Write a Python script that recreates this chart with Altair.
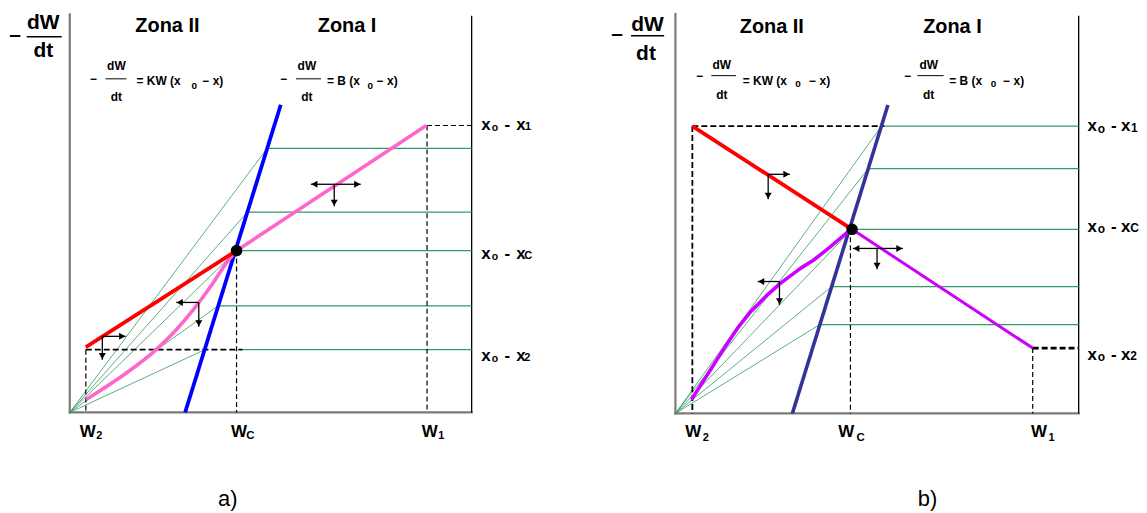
import altair as alt
import pandas as pd

FONT = "Liberation Sans"
GREEN = "#339966"

# Units: W = 0..100 between the left and right frame lines, R = 0..100 from bottom to top of frame
# ---------------- panel a ----------------
A_BLUE = [(28.7, 0.0), (52.5, 77.2)]
A_DOT = [(41.5, 40.6)]
A_ZONE1 = [(41.5, 40.6), (88.7, 72.0)]
A_RED = [(4.0, 16.4), (41.5, 40.6)]
A_CURVE_W = [4.1, 9.9, 14.1, 21.5, 26.5, 31.4, 35.6, 38.9, 41.5]
A_CURVE_R = [3.25, 7.0, 9.9, 15.75, 20.75, 26.6, 32.4, 37.4, 40.6]
A_LEVELS = [66.25, 50.25, 40.6, 26.75, 15.75]
A_LEVEL_FROM = [49.1, 44.2, 41.5, 36.9, 43.0]
A_FAN_TO = [49.1, 44.2, 41.5, 36.9, 33.6]
A_DASH_THIN = [(88.9, 72.0, 100, 72.0), (88.9, 72.0, 88.9, 0), (41.5, 40.6, 41.5, 0), (4.0, 15.75, 4.0, 0)]
A_DASH_THICK = [(4.0, 15.75, 43.0, 15.75)]
A_DASH_HEAVY = []
A_ARROWS = [(65.8, 57.25, 60.0, 57.25), (65.8, 57.25, 72.4, 57.25), (65.8, 57.25, 65.8, 51.75),
            (32.1, 27.6, 26.5, 27.6), (32.1, 27.6, 32.1, 21.5),
            (8.1, 19.1, 13.9, 19.1), (8.1, 19.1, 8.1, 13.25)]
A_BARS = [(-10.7, 94.25, -2.0, 94.25, 1.6), (8.9, 83.7, 14.1, 83.7, 1.0), (56.3, 83.7, 62.5, 83.7, 1.0)]
A_FRAME_GRAY = [(0, 0, 0, 99.9), (0, 0, 100, 0)]
A_FRAME_BLACK = [(100, 0, 100, 99.5)]
A_TEXT_BOLD_CENTER = [
    ("–", -13.6, 94.75, 21), ("dW", -6.6, 97.6, 21), ("dt", -6.6, 90.6, 21),
    ("Zona II", 24.3, 97.0, 20), ("Zona I", 69.0, 97.0, 20),
    ("−", 5.95, 83.7, 12), ("dW", 11.6, 87.0, 12), ("dt", 11.6, 79.25, 12), ("0", 31.0, 82.0, 10),
    ("−", 53.3, 83.7, 12), ("dW", 59.0, 87.0, 12), ("dt", 59.0, 79.25, 12), ("0", 74.8, 82.0, 10),
]
A_TEXT_BOLD_LEFT = [
    ("= KW (x", 16.6, 83.25, 12), ("− x)", 33.0, 83.25, 12),
    ("= B (x", 64.0, 83.25, 12), ("− x)", 76.4, 83.25, 12),
    ("x", 102.4, 72.0, 17), ("o", 105.0, 71.25, 10.5), ("-", 108.2, 72.0, 17), ("x", 111.1, 72.0, 17), ("1", 113.3, 71.5, 11),
    ("x", 102.4, 39.75, 17), ("o", 105.0, 39.0, 10.5), ("-", 108.2, 39.75, 17), ("x", 111.1, 39.75, 17), ("C", 113.1, 39.25, 11),
    ("x", 102.4, 14.1, 17), ("o", 105.0, 13.35, 10.5), ("-", 108.2, 14.1, 17), ("x", 111.1, 14.1, 17), ("2", 113.1, 13.6, 11),
    ("W", 2.5, -4.9, 17), ("2", 6.57, -5.97, 11),
    ("W", 40.1, -4.9, 17), ("C", 43.9, -5.97, 11.5),
    ("W", 87.6, -4.9, 17), ("1", 91.7, -5.97, 11),
]
A_TEXT_NORMAL_CENTER = [("a)", 39.3, -21.75, 22)]

# ---------------- panel b ----------------
B_BLUE = [(29.0, 0.0), (52.7, 77.4)]
B_DOT = [(43.8, 46.2)]
B_ZONE1 = [(43.8, 46.2), (88.6, 16.4)]
B_RED = [(4.2, 72.1), (43.8, 46.2)]
B_CURVE_W = [4.0, 7.96, 12.1, 15.4, 18.7, 22.8, 26.1, 31.0, 34.3, 38.4, 42.55, 43.8]
B_CURVE_R = [3.5, 9.75, 16.4, 21.4, 25.6, 29.75, 32.7, 36.4, 38.5, 41.8, 45.4, 46.2]
B_LEVELS = [72.1, 61.4, 46.2, 31.8, 22.3]
B_LEVEL_FROM = [51.1, 47.8, 43.8, 38.7, 35.8]
B_FAN_TO = [51.1, 47.8, 43.8, 38.7, 35.8]
B_DASH_THIN = [(43.4, 46.2, 43.4, 0), (88.6, 16.4, 88.6, 0)]
B_DASH_THICK = [(4.2, 72.1, 51.8, 72.1), (4.2, 72.1, 4.2, 0)]
B_DASH_HEAVY = [(88.6, 16.4, 100, 16.4)]
B_ARROWS = [(23.0, 60.0, 28.4, 60.0), (23.0, 60.0, 23.0, 53.75),
            (50.0, 41.4, 44.0, 41.4), (50.0, 41.4, 56.4, 41.4), (50.0, 41.4, 50.0, 36.2),
            (25.8, 33.1, 20.4, 33.1), (25.8, 33.1, 25.8, 27.25)]
B_BARS = [(-11.0, 94.75, -2.8, 94.75, 1.6), (8.9, 84.75, 15.0, 84.75, 1.0), (60.0, 84.75, 66.5, 84.75, 1.0)]
B_FRAME_GRAY = [(0, 0, 0, 100.2), (0, 0, 100, 0)]
B_FRAME_BLACK = [(100, 0, 100, 99.75)]
B_TEXT_BOLD_CENTER = [
    ("–", -14.45, 95.2, 21), ("dW", -6.9, 97.45, 21), ("dt", -7.3, 90.25, 21),
    ("Zona II", 23.9, 97.05, 20), ("Zona I", 68.7, 97.05, 20),
    ("−", 6.1, 84.75, 12), ("dW", 11.5, 87.5, 12), ("dt", 11.5, 79.95, 12), ("0", 30.4, 82.6, 10),
    ("−", 57.7, 84.75, 12), ("dW", 62.8, 87.5, 12), ("dt", 62.8, 79.95, 12), ("0", 78.9, 82.6, 10),
]
B_TEXT_BOLD_LEFT = [
    ("= KW (x", 16.7, 83.5, 12), ("− x)", 33.2, 83.5, 12),
    ("= B (x", 67.9, 83.5, 12), ("− x)", 81.3, 83.5, 12),
    ("x", 102.2, 72.05, 17), ("o", 104.7, 71.45, 12), ("-", 108.0, 72.05, 17), ("x", 110.5, 72.05, 17), ("1", 113.0, 71.65, 12),
    ("x", 102.2, 46.8, 17), ("o", 104.7, 46.2, 12), ("-", 108.0, 46.8, 17), ("x", 110.5, 46.8, 17), ("C", 112.8, 46.4, 12),
    ("x", 102.2, 14.75, 17), ("o", 104.7, 14.15, 12), ("-", 108.0, 14.75, 17), ("x", 110.5, 14.75, 17), ("2", 112.8, 14.35, 12),
    ("W", 2.45, -4.7, 17), ("2", 6.8, -6.05, 11),
    ("W", 40.4, -4.7, 17), ("C", 44.9, -6.05, 11.5),
    ("W", 88.2, -4.7, 17), ("1", 92.5, -6.05, 11),
]
B_TEXT_NORMAL_CENTER = [("b)", 62.5, -21.5, 22)]


def panel(P, xdom, ydom, width, height, ppx, ppy, blue, zone1_color, curve_color,
          curve_interp, blue_w, zone1_w):
    xs = alt.Scale(domain=xdom, nice=False, zero=False)
    ys = alt.Scale(domain=ydom, nice=False, zero=False)

    def X(f):
        return alt.X(f, type="quantitative", scale=xs, axis=None)

    def Y(f):
        return alt.Y(f, type="quantitative", scale=ys, axis=None)

    def segs(rows, color, w, dash=None, cap="butt"):
        df = pd.DataFrame(rows, columns=["x", "y", "x2", "y2"])
        kw = dict(color=color, strokeWidth=w, strokeCap=cap)
        if dash:
            kw["strokeDash"] = dash
        return alt.Chart(df).mark_rule(**kw).encode(
            x=X("x"), y=Y("y"), x2=alt.X2("x2"), y2=alt.Y2("y2"))

    def line2(pts, color, w):
        rows = [(pts[0][0], pts[0][1], pts[1][0], pts[1][1])]
        return segs(rows, color, w, cap="butt")

    layers = []
    # frame
    layers.append(segs(P["frame_gray"], "#7a7a7a", 2.2, cap="square"))
    layers.append(segs(P["frame_black"], "#000000", 1.3))
    # green horizontals and fan lines
    hz = [(f, lv, 100, lv) for f, lv in zip(P["level_from"], P["levels"])]
    fan = [(0, 0, t, lv) for t, lv in zip(P["fan_to"], P["levels"])]
    layers.append(segs(hz, GREEN, 1.3))
    layers.append(segs(fan, GREEN, 0.8))
    # dashed guides
    if P["dash_thin"]:
        layers.append(segs(P["dash_thin"], "#000000", 1.2, dash=[5, 3]))
    if P["dash_thick"]:
        layers.append(segs(P["dash_thick"], "#000000", 1.8, dash=[6, 3]))
    if P["dash_heavy"]:
        layers.append(segs(P["dash_heavy"], "#000000", 2.6, dash=[6, 3]))
    # main curves
    layers.append(line2(P["blue"], blue, blue_w))
    cdf = pd.DataFrame({"x": P["curve_w"], "y": P["curve_r"], "i": range(len(P["curve_w"]))})
    layers.append(alt.Chart(cdf).mark_line(color=curve_color, strokeWidth=3.6,
                                           interpolate=curve_interp, strokeJoin="round",
                                           strokeCap="butt").encode(
        x=X("x"), y=Y("y"), order="i:Q"))
    layers.append(line2(P["zone1"], zone1_color, zone1_w))
    layers.append(line2(P["red"], "#ff0000", 3.8))
    # operating point
    ddf = pd.DataFrame(P["dot"], columns=["x", "y"])
    layers.append(alt.Chart(ddf).mark_circle(size=135, color="#000000", opacity=1).encode(
        x=X("x"), y=Y("y")))
    # arrows
    layers.append(segs(P["arrows"], "#000000", 1.3))
    heads = []
    for x0, y0, x1, y1 in P["arrows"]:
        if x1 > x0:
            heads.append((x1 - 3.5 / ppx, y1, "triangle-right"))
        elif x1 < x0:
            heads.append((x1 + 3.5 / ppx, y1, "triangle-left"))
        else:
            heads.append((x1, y1 + 3.5 / ppy, "triangle-down"))
    hdf = pd.DataFrame(heads, columns=["x", "y", "shape"])
    layers.append(alt.Chart(hdf).mark_point(filled=True, size=50, color="#000000", opacity=1).encode(
        x=X("x"), y=Y("y"), shape=alt.Shape("shape:N", scale=None)))
    # fraction bars
    bdf = pd.DataFrame(P["bars"], columns=["x", "y", "x2", "y2", "w"])
    layers.append(alt.Chart(bdf).mark_rule(color="#000000").encode(
        x=X("x"), y=Y("y"), x2=alt.X2("x2"), y2=alt.Y2("y2"),
        strokeWidth=alt.StrokeWidth("w:Q", scale=None)))

    # texts
    def texts(rows, align, weight):
        df = pd.DataFrame(rows, columns=["t", "x", "y", "s"])
        return alt.Chart(df).mark_text(align=align, baseline="middle", font=FONT,
                                       fontWeight=weight, color="#000000").encode(
            x=X("x"), y=Y("y"), text="t:N", size=alt.Size("s:Q", scale=None))

    layers.append(texts(P["text_bc"], "center", "bold"))
    layers.append(texts(P["text_bl"], "left", "bold"))
    layers.append(texts(P["text_nc"], "center", "normal"))

    return alt.layer(*layers).properties(width=width, height=height)


PA = dict(frame_gray=A_FRAME_GRAY, frame_black=A_FRAME_BLACK, levels=A_LEVELS,
          level_from=A_LEVEL_FROM, fan_to=A_FAN_TO, dash_thin=A_DASH_THIN,
          dash_thick=A_DASH_THICK, dash_heavy=A_DASH_HEAVY, blue=A_BLUE,
          curve_w=A_CURVE_W, curve_r=A_CURVE_R, zone1=A_ZONE1, red=A_RED, dot=A_DOT,
          arrows=A_ARROWS, bars=A_BARS, text_bc=A_TEXT_BOLD_CENTER,
          text_bl=A_TEXT_BOLD_LEFT, text_nc=A_TEXT_NORMAL_CENTER)
PB = dict(frame_gray=B_FRAME_GRAY, frame_black=B_FRAME_BLACK, levels=B_LEVELS,
          level_from=B_LEVEL_FROM, fan_to=B_FAN_TO, dash_thin=B_DASH_THIN,
          dash_thick=B_DASH_THICK, dash_heavy=B_DASH_HEAVY, blue=B_BLUE,
          curve_w=B_CURVE_W, curve_r=B_CURVE_R, zone1=B_ZONE1, red=B_RED, dot=B_DOT,
          arrows=B_ARROWS, bars=B_BARS, text_bc=B_TEXT_BOLD_CENTER,
          text_bl=B_TEXT_BOLD_LEFT, text_nc=B_TEXT_NORMAL_CENTER)

pa = panel(PA, [-15.37, 127.2], [-23.0, 101.25], 575, 497, 4.033, 4.0,
           "#0000ff", "#ff66cc", "#ff66cc", "monotone", 3.8, 3.6)
pb = panel(PB, [-23.42, 113.97], [-22.75, 101.5], 556, 497, 4.047, 4.0,
           "#333399", "#cc00ff", "#cc00ff", "linear", 3.6, 3.0)

chart = alt.hconcat(pa, pb, spacing=0, bounds="flush").properties(
    padding=0).configure_view(stroke=None)

chart.save("out.html", embed_options={"renderer": "svg", "actions": False})
